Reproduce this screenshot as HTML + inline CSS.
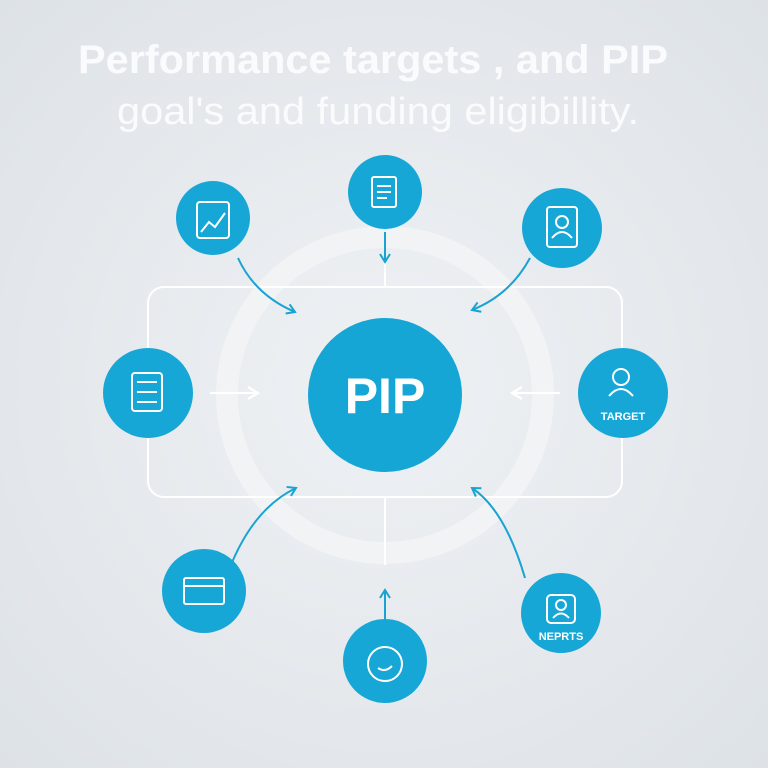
<!DOCTYPE html>
<html><head><meta charset="utf-8"><style>
html,body{margin:0;padding:0;}
body{width:768px;height:768px;overflow:hidden;background:radial-gradient(circle at 50% 50%,#eef1f4 0%,#e3e7eb 70%,#dde2e6 100%);}
svg{display:block}
</style></head><body>
<svg width="768" height="768" viewBox="0 0 768 768" xmlns="http://www.w3.org/2000/svg">
<defs>
<marker id="a" markerWidth="12" markerHeight="12" refX="9" refY="6" orient="auto" markerUnits="userSpaceOnUse">
<path d="M1,1 L9,6 L1,11" fill="none" stroke="#19a3d3" stroke-width="2"/></marker>
<marker id="w" markerWidth="14" markerHeight="14" refX="11" refY="7" orient="auto" markerUnits="userSpaceOnUse">
<path d="M1,1 L11,7 L1,13" fill="none" stroke="#fff" stroke-width="2.2"/></marker>
</defs>
<text x="373" y="73" text-anchor="middle" font-family="Liberation Sans, sans-serif" font-weight="bold" font-size="40" fill="#fafbfc" textLength="590" lengthAdjust="spacingAndGlyphs">Performance targets , and PIP</text>
<text x="378" y="124" text-anchor="middle" font-family="Liberation Sans, sans-serif" font-size="38" fill="#fafbfc" textLength="522" lengthAdjust="spacingAndGlyphs">goal's and funding eligibillity.</text>
<circle cx="385" cy="395" r="158" fill="none" stroke="#f1f3f5" stroke-width="22"/>
<rect x="148" y="287" width="474" height="210" rx="16" fill="none" stroke="#fff" stroke-width="2"/>
<line x1="385" y1="262" x2="385" y2="287" stroke="#fff" stroke-width="2"/>
<line x1="385" y1="497" x2="385" y2="565" stroke="#fff" stroke-width="2"/>
<g fill="none" stroke="#19a3d3" stroke-width="2" marker-end="url(#a)">
<path d="M238,258 Q255,295 295,312"/>
<path d="M385,232 L385,262"/>
<path d="M530,258 Q510,295 472,310"/>
<path d="M226,578 Q250,510 296,488"/>
<path d="M385,635 L385,590"/>
<path d="M525,578 Q505,510 472,488"/>
</g>
<g fill="none" stroke="#fff" stroke-width="2.2" marker-end="url(#w)">
<path d="M210,393 L258,393"/>
<path d="M560,393 L512,393"/>
</g>
<circle cx="385" cy="395" r="77" fill="#16a6d6"/>
<text x="385" y="413" text-anchor="middle" font-family="Liberation Sans, sans-serif" font-weight="bold" font-size="50" fill="#fff">PIP</text>
<g fill="#17a7d7">
<circle cx="213" cy="218" r="37"/><circle cx="385" cy="192" r="37"/><circle cx="562" cy="228" r="40"/>
<circle cx="148" cy="393" r="45"/><circle cx="623" cy="393" r="45"/>
<circle cx="204" cy="591" r="42"/><circle cx="385" cy="661" r="42"/><circle cx="561" cy="613" r="40"/>
</g>
<g fill="none" stroke="#fff" stroke-width="2">
<rect x="197" y="202" width="32" height="36" rx="3"/><path d="M201,232 l8,-10 l6,5 l10,-14"/>
<rect x="372" y="177" width="24" height="30" rx="2"/><path d="M377,186h14M377,192h14M377,198h10"/>
<rect x="547" y="207" width="30" height="40" rx="3"/><circle cx="562" cy="222" r="6"/><path d="M552,238 q10,-12 20,0"/>
<rect x="132" y="373" width="30" height="38" rx="3"/><path d="M137,382h20M137,392h20M137,402h20"/>
<circle cx="621" cy="377" r="8"/><path d="M609,396 q12,-14 24,0"/>
<rect x="184" y="578" width="40" height="26" rx="2"/><path d="M184,586h40"/>
<circle cx="385" cy="664" r="17"/><path d="M378,668 q7,5 14,-2"/>
<rect x="547" y="595" width="28" height="28" rx="4"/><circle cx="561" cy="605" r="5"/><path d="M553,618 q8,-9 16,0"/>
</g>
<text x="623" y="420" text-anchor="middle" font-family="Liberation Sans, sans-serif" font-weight="bold" font-size="11" fill="#fff">TARGET</text>
<text x="561" y="640" text-anchor="middle" font-family="Liberation Sans, sans-serif" font-weight="bold" font-size="11" fill="#fff">NEPRTS</text>
</svg>
</body></html>
